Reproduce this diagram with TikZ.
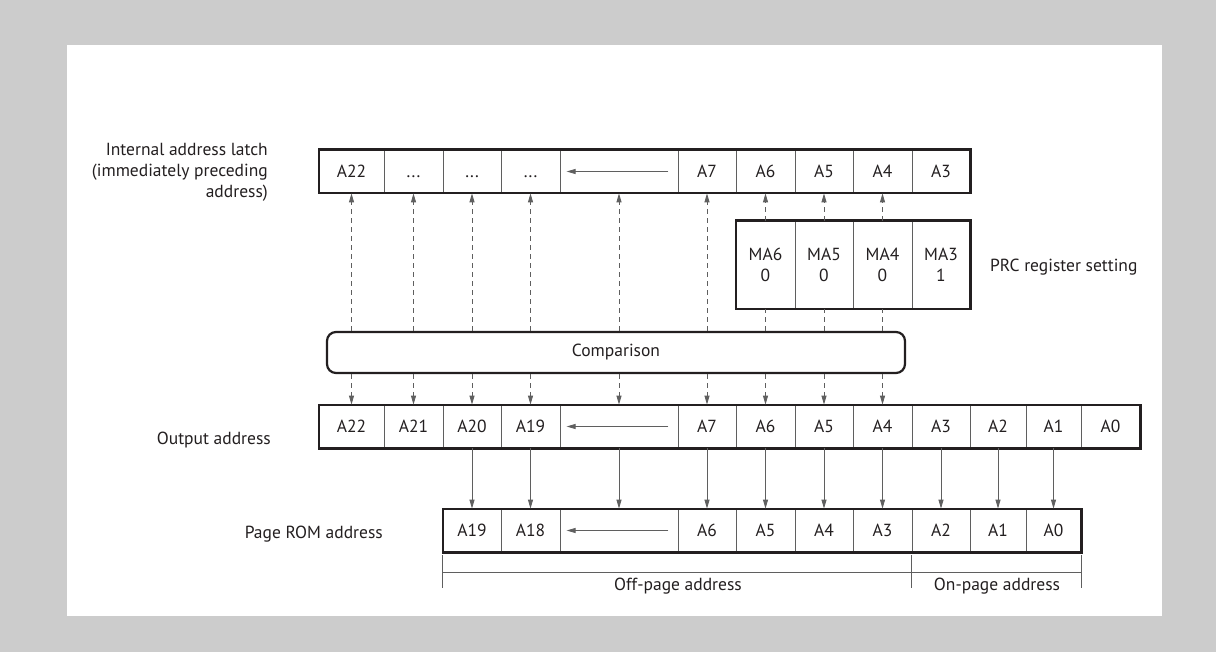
\documentclass[tikz,border=0pt]{standalone}
\usepackage{fontspec}
\setmainfont{PT Sans}
\usepackage{tikz}
\usetikzlibrary{arrows.meta}
\definecolor{bgGrey}{RGB}{204,204,204}
\definecolor{inkDark}{RGB}{35,31,32}
\definecolor{lineGrey}{RGB}{95,95,95}
\begin{document}
\begin{tikzpicture}[
  x=1pt, y=-1pt,
  font=\fontsize{17.5}{21}\selectfont, text=inkDark,
  cell/.style={draw=lineGrey, line width=0.8pt, minimum width=#1, minimum height=43pt,
    inner sep=0pt, text height=12.5pt, text depth=0pt},
  cell/.default=58.5pt,
  mcell/.style={draw=lineGrey, line width=0.8pt, minimum width=#1, minimum height=88pt,
    inner sep=0pt, align=center},
  frame/.style={draw=inkDark, line width=2.2pt},
  lbl/.style={inner sep=0pt},
  dasharrow/.style={draw=lineGrey, line width=0.9pt, dash pattern=on 5pt off 4pt, -{Triangle[length=9pt,width=5pt]}},
  dashline/.style={draw=lineGrey, line width=0.9pt, dash pattern=on 5pt off 4pt},
  solidarrow/.style={draw=lineGrey, line width=0.9pt, -{Triangle[length=9pt,width=5pt]}},
  cellarrow/.style={draw=lineGrey, line width=0.9pt, -{Triangle[length=9pt,width=5pt]}},
  brack/.style={draw=lineGrey, line width=0.8pt},
]
  % panel
  \fill[bgGrey] (0,0) rectangle (1216,652);
  \fill[white] (67,45) rectangle (1162,616);

  % internal address latch
  \node[cell=65pt] (la22) at (351.5,171.5) {A22};
  \node[cell=59pt] (ld1) at (413.5,171.5) {...};
  \node[cell=58pt] (ld2) at (472,171.5) {...};
  \node[cell=59pt] (ld3) at (530.5,171.5) {...};
  \node[cell=118pt] (larr) at (619,171.5) {};
  \node[cell=58pt] (la7) at (707,171.5) {A7};
  \node[cell=59pt] (la6) at (765.5,171.5) {A6};
  \node[cell=58pt] (la5) at (824,171.5) {A5};
  \node[cell=59pt] (la4) at (882.5,171.5) {A4};
  \node[cell=58pt] (la3) at (941,171.5) {A3};
  \draw[frame] (la22.north west) rectangle (la3.south east);
  \draw[cellarrow] ([xshift=-10pt]larr.east) -- ([xshift=7pt]larr.west);
  \node[lbl, anchor=east, align=right] (latchlbl) at (268,172)
    {Internal address latch\\(immediately preceding\\address)};

  % PRC register setting
  \node[mcell=59pt] (ma6) at (765.5,265) {MA6\\0};
  \node[mcell=58pt] (ma5) at (824,265) {MA5\\0};
  \node[mcell=59pt] (ma4) at (882.5,265) {MA4\\0};
  \node[mcell=58pt] (ma3) at (941,265) {MA3\\1};
  \draw[frame] (ma6.north west) rectangle (ma3.south east);
  \node[lbl, anchor=west] (prclbl) at (990,267) {PRC register setting};

  % comparison
  \node[frame, rounded corners=9pt, minimum width=578pt, minimum height=41pt] (cmp)
    at (616,352.5) {Comparison};

  % output address
  \node[cell=65pt] (oa22) at (351.5,426.5) {A22};
  \node[cell=59pt] (oa21) at (413.5,426.5) {A21};
  \node[cell=58pt] (oa20) at (472,426.5) {A20};
  \node[cell=59pt] (oa19) at (530.5,426.5) {A19};
  \node[cell=118pt] (oarr) at (619,426.5) {};
  \node[cell=58pt] (oa7) at (707,426.5) {A7};
  \node[cell=59pt] (oa6) at (765.5,426.5) {A6};
  \node[cell=58pt] (oa5) at (824,426.5) {A5};
  \node[cell=59pt] (oa4) at (882.5,426.5) {A4};
  \node[cell=58pt] (oa3) at (941,426.5) {A3};
  \node[cell=56pt] (oa2) at (998,426.5) {A2};
  \node[cell=55pt] (oa1) at (1053.5,426.5) {A1};
  \node[cell=59pt] (oa0) at (1110.5,426.5) {A0};
  \draw[frame] (oa22.north west) rectangle (oa0.south east);
  \draw[cellarrow] ([xshift=-10pt]oarr.east) -- ([xshift=7pt]oarr.west);
  \node[lbl, anchor=east] (outlbl) at (271,440) {Output address};

  % page ROM address
  \node[cell=58pt] (pa19) at (472,530.5) {A19};
  \node[cell=59pt] (pa18) at (530.5,530.5) {A18};
  \node[cell=118pt] (parr) at (619,530.5) {};
  \node[cell=58pt] (pa6) at (707,530.5) {A6};
  \node[cell=59pt] (pa5) at (765.5,530.5) {A5};
  \node[cell=58pt] (pa4) at (824,530.5) {A4};
  \node[cell=59pt] (pa3) at (882.5,530.5) {A3};
  \node[cell=58pt] (pa2) at (941,530.5) {A2};
  \node[cell=56pt] (pa1) at (998,530.5) {A1};
  \node[cell=55pt] (pa0) at (1053.5,530.5) {A0};
  \draw[frame] (pa19.north west) rectangle (pa0.south east);
  \draw[cellarrow] ([xshift=-10pt]parr.east) -- ([xshift=7pt]parr.west);
  \node[lbl, anchor=east] (pagelbl) at (383,534) {Page ROM address};

  % comparison <-> latch, PRC and output
  \foreach \c in {la22, ld1, ld2, ld3, larr, la7}
    \draw[dasharrow] (\c |- cmp.north) -- (\c.south);
  \foreach \m/\c in {ma6/la6, ma5/la5, ma4/la4} {
    \draw[dasharrow] (\m.north) -- (\c.south);
    \draw[dashline] (\m |- cmp.north) -- (\m.south);
  }
  \foreach \c in {oa22, oa21, oa20, oa19, oarr, oa7, oa6, oa5, oa4}
    \draw[dasharrow] (\c |- cmp.south) -- (\c.north);

  % output -> page ROM
  \foreach \o/\p in {oa20/pa19, oa19/pa18, oarr/parr, oa7/pa6, oa6/pa5,
                     oa5/pa4, oa4/pa3, oa3/pa2, oa2/pa1, oa1/pa0}
    \draw[solidarrow] (\o.south) -- (\o.south |- \p.north);

  % page brackets
  \draw[brack] ([yshift=-3pt]pa19.south west) -- ([yshift=-36pt]pa19.south west);
  \draw[brack] ([yshift=-3pt]pa2.south west) -- ([yshift=-36pt]pa2.south west);
  \draw[brack] ([yshift=-3pt]pa0.south east) -- ([yshift=-36pt]pa0.south east);
  \draw[brack] ([yshift=-20pt]pa19.south west) -- ([yshift=-20pt]pa0.south east);
  \node[lbl] (offlbl) at (678,586) {Off-page address};
  \node[lbl] (onlbl) at (997,586) {On-page address};
\end{tikzpicture}
\end{document}
